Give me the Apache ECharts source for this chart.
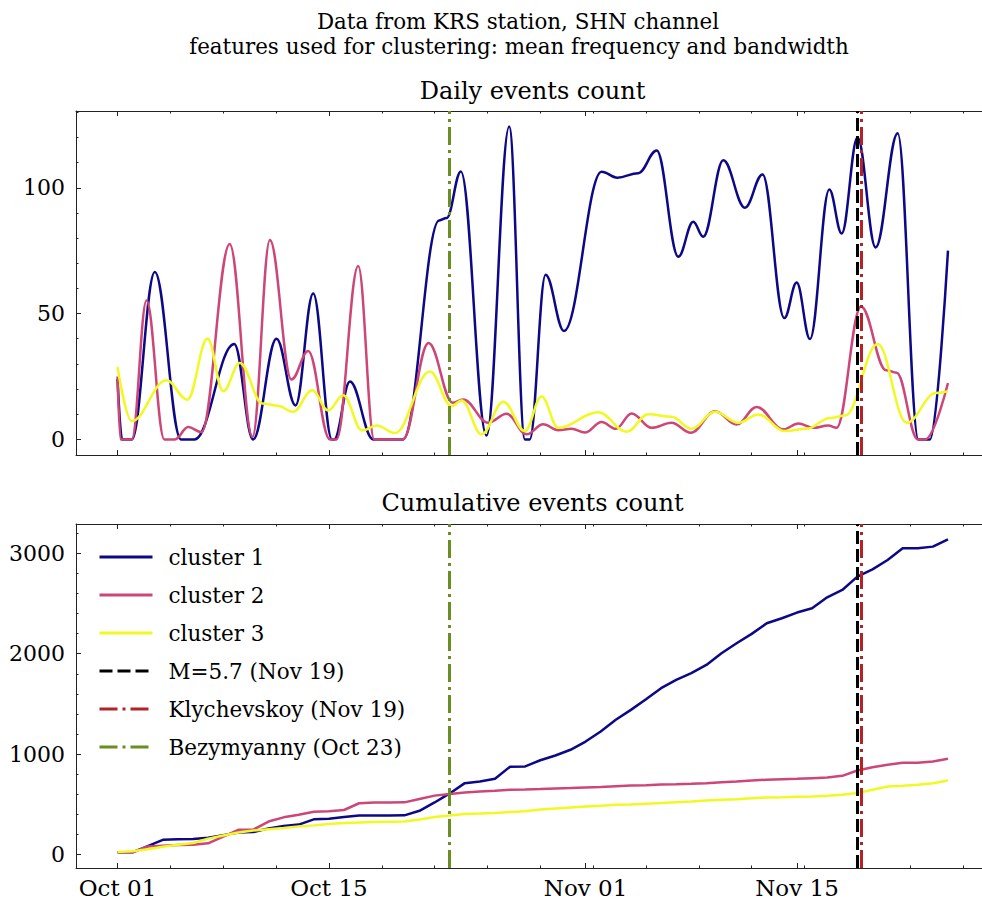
<!DOCTYPE html>
<html lang="en">
<head>
    <meta charset="utf-8"/>
    <title>KRS station, SHN channel</title>
    <script src="https://cdn.jsdelivr.net/npm/echarts@6/dist/echarts.min.js"></script>
    <style>
        html, body { margin: 0; padding: 0; overflow: hidden; background: #fff; }
        #main { width: 1000px; height: 899px; }
    </style>
</head>
<body>
<div id="main"></div>
<script>
    // x = days since Oct 01
    var tickDays = [0, 14, 31, 45];
    var tickLabels = ['Oct 01', 'Oct 15', 'Nov 01', 'Nov 15'];
    var minorDays = [0, 3.5, 7, 10.5, 14, 17.5, 21, 24.5, 28, 31.5, 35, 38.5, 42, 45.5, 49, 52.5, 56];

    var dailyTicks = [0, 50, 100];
    var dailyMinor = [0, 10, 20, 30, 40, 50, 60, 70, 80, 90, 100, 110, 120, 130];
    var cumTicks = [0, 1000, 2000, 3000];
    var cumMinor = [0, 200, 400, 600, 800, 1000, 1200, 1400, 1600, 1800, 2000, 2200, 2400, 2600, 2800, 3000, 3200];

    var clusterNames = ['cluster 1', 'cluster 2', 'cluster 3'];

    // daily counts, smoothed curve: [day, count] at the turning points
    var daily1 = [[0, 24], [0.3, 0], [0.95, 0], [2.47, 66.5], [4.2, 0], [5.1, 0], [7.73, 37.9], [8.98, 0],
        [10.53, 40], [11.79, 13.5], [12.96, 58], [14.2, 0], [14.35, 0], [15.39, 23], [16.93, 0], [18.92, 0],
        [21.3, 87], [21.8, 88], [22.74, 106.5], [24.44, 1.5], [25.94, 124.3], [26.98, 0], [27.3, 0],
        [28.35, 65.4], [29.57, 43.1], [32.06, 106.4], [33.1, 104], [34.49, 105.8], [35.71, 114.8],
        [37.14, 72.6], [38.13, 86.5], [38.79, 80.5], [40.12, 110.9], [41.55, 92.1], [42.72, 105.3],
        [44.16, 48.2], [44.98, 62.3], [45.86, 39.9], [47.14, 99.3], [47.96, 81.8], [49.01, 120],
        [50.21, 76.3], [51.67, 121.7], [53.04, 0], [53.81, 0], [55, 75]];
    var daily2 = [[0, 25], [0.2, 0], [0.95, 0], [1.92, 55.2], [3.1, 0], [3.8, 0], [4.68, 4.9], [5.56, 2.9],
        [7.43, 77.6], [8.94, 1], [10.09, 79.2], [11.52, 23.8], [12.63, 35.1], [14.06, 0], [14.5, 0],
        [15.94, 68.9], [17.0, 0], [18.9, 0], [20.6, 38.3], [22.2, 14.6], [22.89, 15.9], [24.55, 6.6],
        [25.77, 10.2], [27.09, 2], [28.19, 6], [29.19, 3.6], [30.07, 4.2], [30.95, 2.7], [32.06, 6.9],
        [33.0, 4.2], [34.05, 10.3], [35.37, 4.6], [36.69, 6.6], [37.97, 2.6], [39.57, 11.2], [41.0, 5.9],
        [42.33, 12.9], [44.09, 4], [45.09, 6.3], [46.08, 4.6], [47.07, 5.5], [47.62, 4.6], [49.24, 52.8],
        [50.9, 27.5], [51.6, 26.5], [53.0, 0], [53.5, 0], [55, 22.4]];
    var daily3 = [[0, 28.8], [0.93, 7.3], [3.24, 23.5], [4.63, 15.8], [5.96, 40.1], [7.0, 19.1], [8.1, 30.4],
        [9.6, 14.3], [10.6, 13.4], [11.63, 11], [12.89, 19.5], [13.95, 11.5], [14.95, 17.5], [16.2, 3.5],
        [17.16, 5.5], [18.37, 2.5], [20.69, 27], [22.12, 13.2], [22.79, 15.5], [24.11, 2], [25.55, 15],
        [26.98, 3.3], [28.08, 17], [29.19, 4.6], [31.84, 10.8], [33.72, 3], [35.15, 10], [36.69, 9],
        [38.02, 4.2], [39.57, 11], [41.11, 6.6], [42.44, 9.9], [44.2, 3.3], [45.6, 4.2], [47.2, 8.5],
        [48.2, 9.5], [50.34, 37.9], [52.26, 6.6], [54.2, 18.4], [55, 19.1]];

    // cumulative counts, one value per day from Oct 01 to Nov 25
    var cum1 = [24, 24, 86, 148, 155, 156, 168, 195, 222, 226, 262, 285, 300, 352, 358, 376, 390, 391, 391, 392,
        437, 520, 610, 712, 728, 756, 876, 878, 940, 987, 1044, 1126, 1226, 1342, 1441, 1547, 1657, 1739, 1806,
        1888, 2004, 2104, 2197, 2303, 2352, 2409, 2452, 2561, 2634, 2766, 2839, 2932, 3048, 3048, 3065, 3137];
    var cum2 = [25, 25, 82, 90, 96, 100, 114, 180, 248, 250, 330, 372, 398, 428, 432, 445, 512, 520, 520, 521,
        555, 588, 603, 618, 628, 636, 646, 648, 653, 659, 663, 669, 673, 682, 689, 692, 699, 702, 706, 712,
        722, 729, 739, 746, 752, 755, 762, 769, 785, 838, 871, 895, 914, 914, 928, 954];
    var cum3 = [28, 35, 55, 80, 99, 116, 160, 192, 222, 240, 254, 265, 282, 292, 305, 315, 320, 325, 328, 331,
        350, 375, 390, 406, 410, 416, 425, 433, 450, 461, 471, 480, 488, 497, 500, 507, 514, 523, 530, 540,
        547, 553, 563, 570, 573, 577, 580, 586, 596, 613, 646, 679, 686, 696, 712, 739];

    var eventNames = ['M=5.7 (Nov 19)', 'Klychevskoy (Nov 19)', 'Bezymyanny (Oct 23)'];
    var eventDays = [49, 49.25, 22];

    var clusterColors = ['#0d0887', '#cc4778', '#f0f921'];
    var eventColors = ['#000000', '#b22226', '#6b8e23'];
    var eventDash = [[13, 5], [18, 5, 3, 5], [18, 5, 3, 5]];

    var FONT = 'DejaVu Serif';
    var frame = '#222';
    var xMin = -2.75, xMax = 57.75;

    function makeX(grid, labels) {
        var out = [];
        ['bottom', 'top'].forEach(function (pos) {
            out.push({
                type: 'value', gridIndex: grid, position: pos, min: xMin, max: xMax,
                splitLine: {show: false},
                axisLine: {show: true, onZero: false, lineStyle: {color: frame, width: 1}},
                axisTick: {inside: true, length: 5, customValues: tickDays, lineStyle: {color: frame, width: 1}},
                axisLabel: {
                    show: labels && pos === 'bottom', customValues: tickDays, margin: 8,
                    fontFamily: FONT, fontSize: 23, color: '#000',
                    formatter: function (v) { return tickLabels[tickDays.indexOf(v)]; }
                }
            });
            out.push({
                type: 'value', gridIndex: grid, position: pos, min: xMin, max: xMax,
                splitLine: {show: false},
                axisLine: {show: false, onZero: false},
                axisTick: {inside: true, length: 2.5, customValues: minorDays, lineStyle: {color: frame, width: 1}},
                axisLabel: {show: false}
            });
        });
        return out;
    }

    function makeY(grid, min, max, major, minor) {
        var out = [];
        ['left', 'right'].forEach(function (pos) {
            out.push({
                type: 'value', gridIndex: grid, position: pos, min: min, max: max,
                splitLine: {show: false},
                axisLine: {show: true, onZero: false, lineStyle: {color: frame, width: 1}},
                axisTick: {inside: true, length: 5, customValues: major, lineStyle: {color: frame, width: 1}},
                axisLabel: {
                    show: pos === 'left', customValues: major, margin: 11,
                    fontFamily: FONT, fontSize: 22, color: '#000',
                    formatter: function (v) { return String(v); }
                }
            });
            out.push({
                type: 'value', gridIndex: grid, position: pos, min: min, max: max,
                splitLine: {show: false},
                axisLine: {show: false, onZero: false},
                axisTick: {inside: true, length: 2.5, customValues: minor, lineStyle: {color: frame, width: 1}},
                axisLabel: {show: false}
            });
        });
        return out;
    }

    var series = [];
    var dailyData = [daily1, daily2, daily3];
    var cumData = [cum1, cum2, cum3];

    // top panel: axes 0..3, bottom panel: axes 4..7
    [0, 1, 2].forEach(function (i) {
        series.push({
            name: clusterNames[i], type: 'line', xAxisIndex: 0, yAxisIndex: 0,
            data: dailyData[i], smooth: 0.38, smoothMonotone: 'x', symbol: 'none',
            lineStyle: {color: clusterColors[i], width: 2.5}, itemStyle: {color: clusterColors[i]}
        });
        series.push({
            name: clusterNames[i], type: 'line', xAxisIndex: 4, yAxisIndex: 4,
            data: cumData[i].map(function (v, d) { return [d, v]; }), symbol: 'none',
            lineStyle: {color: clusterColors[i], width: 2.5}, itemStyle: {color: clusterColors[i]}
        });
    });

    [0, 1, 2].forEach(function (i) {
        [0, 4].forEach(function (ax) {
            series.push({
                name: eventNames[i], type: 'line', xAxisIndex: ax, yAxisIndex: ax, data: [], symbol: 'none',
                lineStyle: {color: eventColors[i], width: 3, type: eventDash[i]},
                itemStyle: {color: eventColors[i]},
                markLine: {
                    silent: true, symbol: ['none', 'none'], animation: false,
                    label: {show: false},
                    lineStyle: {color: eventColors[i], width: 3, type: eventDash[i]},
                    data: [{xAxis: eventDays[i]}]
                }
            });
        });
    });

    var chart = echarts.init(document.getElementById('main'), null, {renderer: 'svg'});
    chart.setOption({
        animation: false,
        backgroundColor: '#fff',
        graphic: [
            {type: 'text', x: 518, y: 21, style: {text: 'Data from KRS station, SHN channel', font: '21.4px "DejaVu Serif"', fill: '#000', textAlign: 'center', textVerticalAlign: 'middle'}},
            {type: 'text', x: 519, y: 46, style: {text: 'features used for clustering: mean frequency and bandwidth', font: '21.4px "DejaVu Serif"', fill: '#000', textAlign: 'center', textVerticalAlign: 'middle'}},
            {type: 'text', x: 532.5, y: 91, style: {text: 'Daily events count', font: '24px "DejaVu Serif"', fill: '#000', textAlign: 'center', textVerticalAlign: 'middle'}},
            {type: 'text', x: 532.5, y: 503, style: {text: 'Cumulative events count', font: '24px "DejaVu Serif"', fill: '#000', textAlign: 'center', textVerticalAlign: 'middle'}}
        ],
        legend: {
            orient: 'vertical', left: 93, top: 541,
            itemWidth: 53, itemHeight: 14, itemGap: 16,
            data: clusterNames.concat(eventNames),
            lineStyle: {width: 3},
            itemStyle: {opacity: 0},
            textStyle: {fontFamily: FONT, fontSize: 21.5, color: '#000', padding: [0, 0, 0, 11]}
        },
        grid: [
            {left: 76, top: 111, right: 10.5, height: 344},
            {left: 76, top: 524, right: 10.5, height: 344}
        ],
        xAxis: makeX(0, false).concat(makeX(1, true)),
        yAxis: makeY(0, -6.2, 130.5, dailyTicks, dailyMinor).concat(makeY(1, -132, 3290, cumTicks, cumMinor)),
        series: series
    });
</script>
</body>
</html>
